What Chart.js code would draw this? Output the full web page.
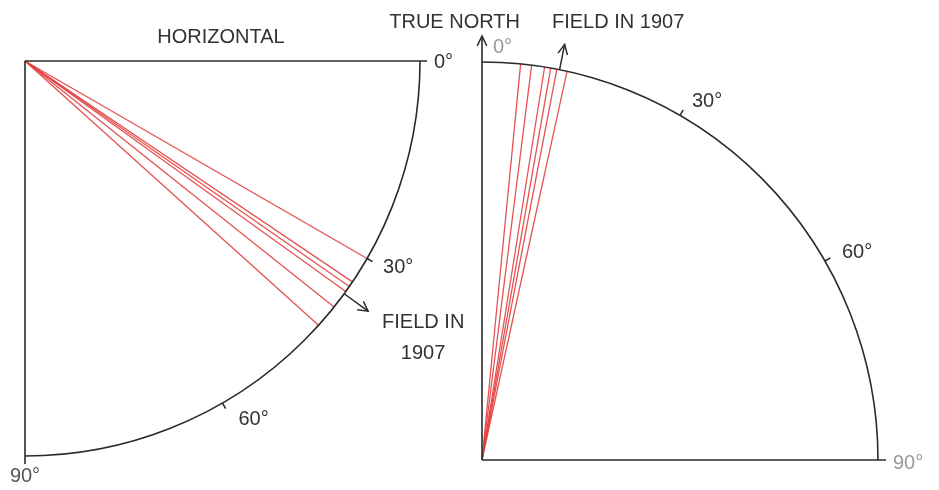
<!DOCTYPE html>
<html><head><meta charset="utf-8">
<script src="https://cdn.jsdelivr.net/npm/chart.js@4/dist/chart.umd.min.js"></script>
<style>
html,body{margin:0;padding:0;background:#fff;}
#wrap{position:relative;width:939px;height:490px;overflow:hidden;background:#fff;}
canvas{position:absolute;top:0;}
</style></head><body>
<div id="wrap">
<canvas id="left" width="470" height="490" style="left:0"></canvas>
<canvas id="right" width="579" height="490" style="left:360px"></canvas>
</div>
<script>
// ---- Data ----
const inclinationAngles = [30.0, 34.0, 34.8, 35.7, 38.5, 42.0]; // degrees below horizontal
const inclinationField1907 = 36.1;
const declinationAngles = [5.6, 7.2, 9.1, 10.0, 10.9, 12.4];     // degrees east of true north
const declinationField1907 = 11.3;
const arcTickAngles = [30, 60];
const scaleLabels = ['0°', '30°', '60°', '90°'];
const leftTitle = 'HORIZONTAL';
const rightTitle = 'TRUE NORTH';
const fieldLabelLines = ['FIELD IN', '1907'];
const fieldLabel = 'FIELD IN 1907';

// ---- helpers ----
const deg = Math.PI / 180;
const RED = 'rgba(226,62,62,0.9)';
const INK = '#2a2a2a';
const FONT = "20px 'Liberation Sans', Arial, sans-serif";
const pLeft = (a, r) => ({ x: r * Math.cos(a * deg), y: -r * Math.sin(a * deg) });
const pRight = (a, r) => ({ x: r * Math.sin(a * deg), y: r * Math.cos(a * deg) });

function lineDs(data, color, width) {
  return { data, showLine: true, borderColor: color, borderWidth: width, pointRadius: 0,
           pointHoverRadius: 0, fill: false, tension: 0, clip: false };
}
function arrowHead(ctx, x1, y1, x2, y2, len, spread) {
  const a = Math.atan2(y2 - y1, x2 - x1);
  ctx.beginPath();
  ctx.moveTo(x2 - len * Math.cos(a - spread), y2 - len * Math.sin(a - spread));
  ctx.lineTo(x2, y2);
  ctx.lineTo(x2 - len * Math.cos(a + spread), y2 - len * Math.sin(a + spread));
  ctx.stroke();
}
function text(ctx, s, x, y, align, color) {
  ctx.fillStyle = color || '#333';
  ctx.textAlign = align || 'left';
  ctx.textBaseline = 'middle';
  ctx.font = FONT;
  ctx.fillText(s, x, y);
}

// ---- Left: inclination (dip below horizontal) ----
const leftDatasets = inclinationAngles.map(a => lineDs([{ x: 0, y: 0 }, pLeft(a, 1)], RED, 1.3));
leftDatasets.push(lineDs([pLeft(inclinationField1907, 1), pLeft(inclinationField1907, 1.075)], INK, 1.5));

const leftPlugin = {
  id: 'leftFrame',
  afterDatasetsDraw(chart) {
    const { ctx, scales: { x, y } } = chart;
    const px = (p) => [x.getPixelForValue(p.x), y.getPixelForValue(p.y)];
    const [cx, cy] = px({ x: 0, y: 0 });
    const rx = x.getPixelForValue(1) - cx, ry = y.getPixelForValue(-1) - cy;
    ctx.save();
    ctx.strokeStyle = INK; ctx.lineWidth = 1.6; ctx.lineCap = 'butt';
    ctx.beginPath(); ctx.ellipse(cx, cy, rx, ry, 0, 0, Math.PI / 2); ctx.stroke();
    ctx.beginPath(); ctx.moveTo(cx, cy); ctx.lineTo(cx + rx + 7, cy); ctx.stroke();
    ctx.beginPath(); ctx.moveTo(cx, cy); ctx.lineTo(cx, cy + ry + 8); ctx.stroke();
    arcTickAngles.forEach(a => {
      const [x1, y1] = px(pLeft(a, 1)), [x2, y2] = px(pLeft(a, 1.016));
      ctx.beginPath(); ctx.moveTo(x1, y1); ctx.lineTo(x2, y2); ctx.stroke();
    });
    const meta = chart.getDatasetMeta(chart.data.datasets.length - 1).data;
    ctx.lineWidth = 1.5;
    arrowHead(ctx, meta[0].x, meta[0].y, meta[1].x, meta[1].y, 11, 0.5);
    // labels
    text(ctx, leftTitle, cx + 196, 37, 'center');
    text(ctx, scaleLabels[0], cx + rx + 14, cy + 1);
    let [tx, ty] = px(pLeft(30, 1)); text(ctx, scaleLabels[1], tx + 16, ty + 9);
    [tx, ty] = px(pLeft(60, 1)); text(ctx, scaleLabels[2], tx + 16, ty + 16);
    text(ctx, scaleLabels[3], cx, cy + ry + 20, 'center', '#555');
    text(ctx, fieldLabelLines[0], meta[1].x + 14, meta[1].y + 11);
    text(ctx, fieldLabelLines[1], meta[1].x + 55, meta[1].y + 42, 'center');
    ctx.restore();
  }
};

// ---- Right: declination (east of true north) ----
const rightDatasets = declinationAngles.map(a => lineDs([{ x: 0, y: 0 }, pRight(a, 1)], RED, 1.3));
rightDatasets.push(lineDs([pRight(declinationField1907, 1), pRight(declinationField1907, 1.065)], INK, 1.5));

const rightPlugin = {
  id: 'rightFrame',
  afterDatasetsDraw(chart) {
    const { ctx, scales: { x, y } } = chart;
    const px = (p) => [x.getPixelForValue(p.x), y.getPixelForValue(p.y)];
    const [cx, cy] = px({ x: 0, y: 0 });
    const rx = x.getPixelForValue(1) - cx, ry = cy - y.getPixelForValue(1);
    ctx.save();
    ctx.strokeStyle = INK; ctx.lineWidth = 1.6;
    ctx.beginPath(); ctx.ellipse(cx, cy, rx, ry, 0, -Math.PI / 2, 0); ctx.stroke();
    ctx.beginPath(); ctx.moveTo(cx, cy); ctx.lineTo(cx + rx + 8, cy); ctx.stroke();
    ctx.beginPath(); ctx.moveTo(cx, cy); ctx.lineTo(cx, cy - ry - 26); ctx.stroke();
    ctx.lineWidth = 1.5;
    arrowHead(ctx, cx, cy, cx, cy - ry - 26, 11, 0.45);
    arcTickAngles.forEach(a => {
      const [x1, y1] = px(pRight(a, 1)), [x2, y2] = px(pRight(a, 1.016));
      ctx.beginPath(); ctx.moveTo(x1, y1); ctx.lineTo(x2, y2); ctx.stroke();
    });
    const meta = chart.getDatasetMeta(chart.data.datasets.length - 1).data;
    arrowHead(ctx, meta[0].x, meta[0].y, meta[1].x, meta[1].y, 11, 0.45);
    // labels
    text(ctx, rightTitle, cx + 38, 22, 'right');
    text(ctx, fieldLabel, cx + 70, 22, 'left');
    text(ctx, scaleLabels[0], cx + 11, cy - ry - 15, 'left', '#999');
    let [tx, ty] = px(pRight(30, 1)); text(ctx, scaleLabels[1], tx + 12, ty - 14);
    [tx, ty] = px(pRight(60, 1)); text(ctx, scaleLabels[2], tx + 17, ty - 9);
    text(ctx, scaleLabels[3], cx + rx + 15, cy + 3, 'left', '#999');
    ctx.restore();
  }
};

function makeChart(id, datasets, padding, xr, yr, plugin) {
  return new Chart(document.getElementById(id), {
    type: 'scatter',
    data: { datasets },
    options: {
      responsive: false, animation: false, events: [],
      layout: { padding },
      scales: {
        x: { type: 'linear', display: false, min: xr[0], max: xr[1] },
        y: { type: 'linear', display: false, min: yr[0], max: yr[1] }
      },
      plugins: { legend: { display: false }, tooltip: { enabled: false } }
    },
    plugins: [plugin]
  });
}

makeChart('left', leftDatasets, { left: 25, right: 50, top: 61, bottom: 34 }, [0, 1], [-1, 0], leftPlugin);
makeChart('right', rightDatasets, { left: 122, right: 61, top: 62, bottom: 30 }, [0, 1], [0, 1], rightPlugin);
</script>
</body></html>
